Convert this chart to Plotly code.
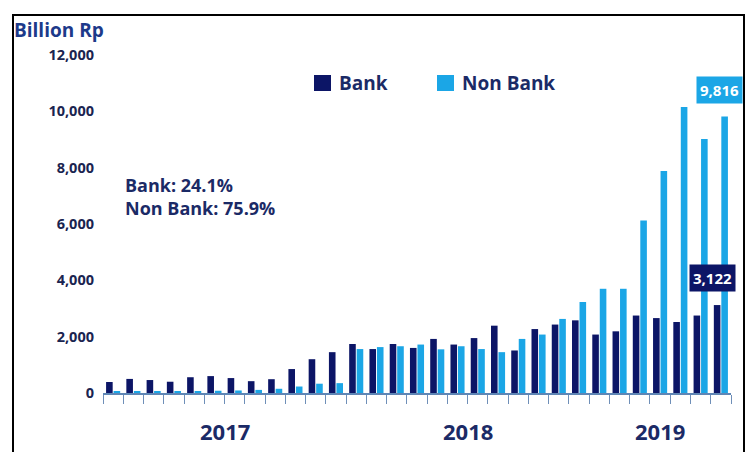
import plotly.graph_objects as go

# ---- data ----
months = list(range(31))  # Jan 2017 .. Jul 2019
bank = [390, 500, 460, 400, 560, 600, 530, 420, 490, 850, 1200, 1450,
        1740, 1560, 1740, 1600, 1920, 1720, 1950, 2390, 1510, 2270, 2430, 2580,
        2075, 2190, 2750, 2660, 2520, 2750, 3122]
non_bank = [50, 50, 60, 50, 70, 80, 90, 110, 150, 230, 330, 350,
            1560, 1630, 1660, 1720, 1550, 1660, 1560, 1450, 1920, 2075, 2630, 3230,
            3700, 3700, 6120, 7880, 10150, 9020, 9816]
series_names = ["Bank", "Non Bank"]
years = ["2017", "2018", "2019"]
year_centers = [5.5, 17.5, 27.0]
year_bounds = [-0.5, 11.5, 23.5, 30.5]
y_ticks = [0, 2000, 4000, 6000, 8000, 10000, 12000]
share_text = "Bank: 24.1%<br>Non Bank: 75.9%"

BANK_C = "#0c1566"
NB_C = "#1ba6e6"
TXT_C = "#1b2a66"
FONT = "Open Sans"

W, H = 745, 452
L, R, T, B = 103, 14, 55, 59
PW, PH = W - L - R, H - T - B


def px(x):
    return (x - L) / PW


def py(y):
    return (H - B - y) / PH


fig = go.Figure()
fig.add_trace(go.Bar(x=months, y=bank, name=series_names[0], marker_color=BANK_C, marker_line_width=0))
fig.add_trace(go.Bar(x=months, y=non_bank, name=series_names[1], marker_color=NB_C, marker_line_width=0))

minor_vals = [m + 0.5 for m in range(-1, 31)]

fig.update_layout(
    width=W, height=H,
    margin=dict(l=L, r=R, t=T, b=B),
    paper_bgcolor="white", plot_bgcolor="white",
    barmode="group", bargap=0.26, bargroupgap=0.12,
    font=dict(family=FONT, color=TXT_C),
    showlegend=False,
    xaxis=dict(range=[-0.5, 30.5], showgrid=False, zeroline=False,
               showline=True, linecolor="#5f86b5", linewidth=1.5,
               tickmode="array", tickvals=year_bounds, ticktext=["" for _ in year_bounds],
               ticks="outside", ticklen=24, tickcolor="#5f86b5", tickwidth=1.5,
               minor=dict(tickmode="array", tickvals=minor_vals, ticks="outside",
                          ticklen=9, tickcolor="#6f8fb8", tickwidth=1)),
    yaxis=dict(range=[0, 12000], showgrid=False, zeroline=False, showline=False,
               tickmode="array", tickvals=y_ticks, tickformat=",",
               ticks="", ticklabelstandoff=8,
               tickfont=dict(size=14.5, color="#1a2450", weight=700, family=FONT)),
)

# manual legend
legend_pos = [(314, 337), (437, 460)]
for name, col, (sx, tx) in zip(series_names, [BANK_C, NB_C], legend_pos):
    fig.add_shape(type="rect", xref="paper", yref="paper",
                  x0=px(sx), x1=px(sx + 17), y0=py(91), y1=py(75),
                  fillcolor=col, line_width=0)
    fig.add_annotation(x=px(tx), y=py(83), xref="paper", yref="paper", text=name,
                       showarrow=False, xanchor="left", yanchor="middle",
                       font=dict(size=19, color=TXT_C, weight=700, family=FONT))

# year labels
for yr, xc in zip(years, year_centers):
    fig.add_annotation(x=xc, y=0, xref="x", yref="y", text=yr, showarrow=False,
                       yshift=-38, font=dict(size=22, color=TXT_C, weight=700, family=FONT))

# unit label
fig.add_annotation(x=px(12), y=py(30), xref="paper", yref="paper",
                   text="Billion Rp", showarrow=False, xanchor="left", yanchor="middle",
                   font=dict(size=19, color="#1d3a8a", weight=700, family=FONT))

# shares
fig.add_annotation(x=px(123), y=py(196), xref="paper", yref="paper",
                   text=share_text, showarrow=False, xanchor="left", yanchor="middle", align="left",
                   font=dict(size=18, color=TXT_C, weight=700, family=FONT))

# value callouts
fig.add_annotation(x=months[-1], y=non_bank[-1], xref="x", yref="y",
                   text=f"{non_bank[-1]:,}", showarrow=False, yshift=27, xshift=-1,
                   bgcolor=NB_C, borderpad=3,
                   font=dict(size=15, color="white", weight=700, family=FONT))
fig.add_annotation(x=months[-1], y=bank[-1], xref="x", yref="y",
                   text=f"{bank[-1]:,}", showarrow=False, yshift=27, xshift=-8,
                   bgcolor=BANK_C, borderpad=3,
                   font=dict(size=15, color="white", weight=700, family=FONT))

# outer border of the picture
fig.add_shape(type="rect", xref="paper", yref="paper",
              x0=px(13), x1=px(744), y0=py(460), y1=py(15),
              line=dict(color="black", width=2), fillcolor="rgba(0,0,0,0)", layer="above")

fig.write_html("out.html")
